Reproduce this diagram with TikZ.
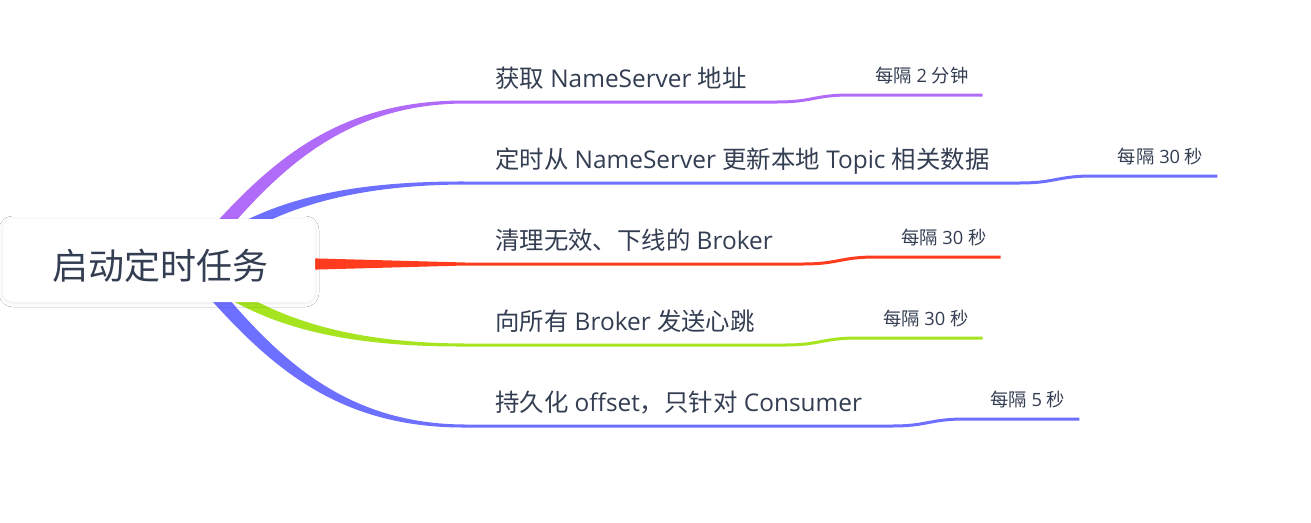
\documentclass[tikz,border=0pt]{standalone}
\usepackage{fontspec}
\setmainfont{Open Sans}
\newfontfamily\cjk{Noto Sans CJK SC}
\usetikzlibrary{calc,shadows.blur}
\definecolor{txt}{HTML}{343E52}
\definecolor{cpur}{HTML}{B06CF9}
\definecolor{cblu}{HTML}{6D6FFF}
\definecolor{cred}{HTML}{FF3C1E}
\definecolor{cgrn}{HTML}{A5E41E}
% colour, line y, prefix, main text, label text
\newcommand\mmbranch[5]{%
  \coordinate (#3y) at (465,#2);
  \node[maintext,anchor=base west] (#3t) at (495,#2-15) {#4};
  \coordinate (#3a) at ($(#3t.east |- #3y)+(30,0)$);
  \coordinate (#3b) at ($(#3a)+(73,-7)$);
  \node[labtext,anchor=base west] (#3l) at ($(#3b)+(25,-13)$) {#5};
  \coordinate (#3e) at ($(#3l.east |- #3b)+(14,0)$);
  \draw[conn=#1] (#3y) -- (#3a) .. controls ($(#3a)+(36,0)$) and ($(#3b)+(-36,0)$) .. (#3b) -- (#3e);
}
% colour, end y, P1x, P1y, P2x, start half width, P1 half width
\newcommand\mmtaper[7]{%
  \fill[#1] ($(rs)+(0,-#6)$) .. controls (#3,#4-#7) and (#5,#2-2) .. (465,#2-1.5)
    -- (465,#2+1.5) .. controls (#5,#2+2) and (#3,#4+#7) .. ($(rs)+(0,#6)$) -- cycle;
}
\begin{document}
\begin{tikzpicture}[x=1pt,y=-1pt,
  maintext/.style={inner sep=0pt,text=txt,font=\fontsize{24.4}{28}\selectfont},
  labtext/.style={inner sep=0pt,text=txt,font=\fontsize{18.3}{21}\selectfont},
  conn/.style={line width=3pt,draw=#1},
  rootbox/.style={fill=white,rounded corners=10pt,minimum width=312pt,minimum height=83pt,inner sep=0pt,
    blur shadow={shadow xshift=0pt,shadow yshift=-1pt,shadow blur radius=4pt,shadow opacity=9}}]
  \fill[white] (0,0) rectangle (1311,522);
  \useasboundingbox (0,0) rectangle (1311,522);
  \coordinate (rs) at (190,264);
  % tapered branches
  \mmtaper{cpur}{102}{262}{178}{330}{12}{9}
  \mmtaper{cblu}{183}{252}{212}{330}{8}{6}
  \fill[cred] ($(rs)+(0,-9)$) -- (465,262.5) -- (465,265.5) -- ($(rs)+(0,9)$) -- cycle;
  \mmtaper{cgrn}{345}{252}{316}{330}{8}{6}
  \mmtaper{cblu}{426}{262}{350}{330}{12}{9}
  % root
  \node[rootbox] (root) at (159,260.5) {};
  \node[anchor=base,inner sep=0pt,text=txt,font=\fontsize{36}{40}\selectfont] (rootlbl) at (160,279) {\cjk 启动定时任务};
  % children
  \mmbranch{cpur}{102}{p}{{\cjk 获取} NameServer {\cjk 地址}}{{\cjk 每隔} 2 {\cjk 分钟}}
  \mmbranch{cblu}{183}{q}{{\cjk 定时从} NameServer {\cjk 更新本地} Topic {\cjk 相关数据}}{{\cjk 每隔} 30 {\cjk 秒}}
  \mmbranch{cred}{264}{r}{{\cjk 清理无效、下线的} Broker}{{\cjk 每隔} 30 {\cjk 秒}}
  \mmbranch{cgrn}{345}{s}{{\cjk 向所有} Broker {\cjk 发送心跳}}{{\cjk 每隔} 30 {\cjk 秒}}
  \mmbranch{cblu}{426}{u}{{\cjk 持久化} offset{\cjk ，只针对} Consumer}{{\cjk 每隔} 5 {\cjk 秒}}
\end{tikzpicture}
\end{document}
